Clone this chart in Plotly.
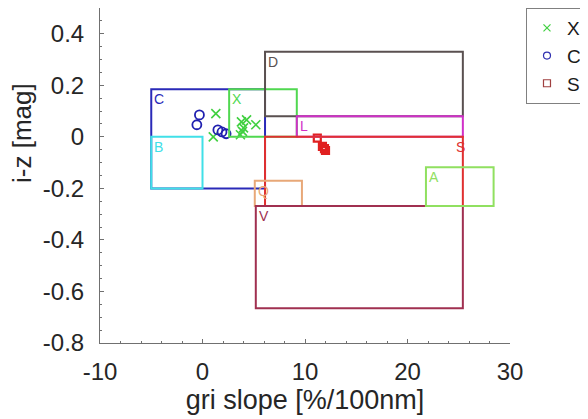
import plotly.graph_objects as go

# Data series (gri slope [%/100nm], i-z [mag])
x_series_x = [1.3, 1.05, 3.8, 4.3, 5.2, 4.0, 3.7, 3.9]
x_series_y = [0.09, 0.0, 0.058, 0.066, 0.047, 0.035, 0.008, 0.021]

c_series_x = [-0.3, -0.55, 1.5, 1.9, 2.3]
c_series_y = [0.085, 0.047, 0.027, 0.019, 0.012]

s_series_x = [11.2, 11.7, 11.9, 12.0]
s_series_y = [-0.005, -0.037, -0.046, -0.053]

# Regions
box_names = ["C", "B", "X", "D", "L", "S", "Q", "V", "A"]
box_x0 = [-5.0, -5.0, 2.6, 6.1, 9.2, 6.1, 5.1, 5.2, 21.8]
box_x1 = [6.1, 0.0, 9.2, 25.4, 25.4, 25.4, 9.7, 25.4, 28.4]
box_y0 = [-0.2, -0.2, 0.0, 0.08, 0.0, -0.268, -0.268, -0.665, -0.268]
box_y1 = [0.185, 0.0, 0.185, 0.33, 0.08, 0.0, -0.17, -0.268, -0.118]
box_colors = ["#2a2ab8", "#40e0e8", "#50d850", "#5a5050", "#d030c8",
              "#e03030", "#e8a878", "#a03050", "#90e060"]
box_label_side = ["left", "left", "left", "left", "left", "right", "left", "left", "left"]

x_ticks = [-10, 0, 10, 20, 30]
y_ticks = [0.4, 0.2, 0, -0.2, -0.4, -0.6, -0.8]

FONT = "Liberation Sans, Arial, sans-serif"

fig = go.Figure()

shapes = []
annotations = []
for name, x0, x1, y0, y1, col, side in zip(box_names, box_x0, box_x1, box_y0, box_y1,
                                            box_colors, box_label_side):
    shapes.append(dict(type="rect", xref="x", yref="y", x0=x0, x1=x1, y0=y0, y1=y1,
                       line=dict(color=col, width=2), fillcolor="rgba(0,0,0,0)"))
    if side == "left":
        annotations.append(dict(x=x0, y=y1, xref="x", yref="y", text=name, showarrow=False,
                                xanchor="left", yanchor="top", xshift=1, yshift=0,
                                font=dict(family=FONT, size=14, color=col)))
    else:
        annotations.append(dict(x=x1, y=y1, xref="x", yref="y", text=name, showarrow=False,
                                xanchor="right", yanchor="top", xshift=4, yshift=0,
                                font=dict(family=FONT, size=14, color=col)))

# Page offset: the browser body adds 8 px on the left and top
OFF = 8
plot_l, plot_r, plot_t, plot_b = 100, 510, 8, 343   # target plot area on screen

# y-axis title (placed as in the reference, above the axis centre)
annotations.append(dict(x=(22 - plot_l) / (plot_r - plot_l), y=(plot_b - 133) / (plot_b - plot_t),
                        xref="paper", yref="paper", text="i-z [mag]", showarrow=False,
                        xanchor="center", yanchor="middle", borderpad=0,
                        textangle=-90, font=dict(family=FONT, size=26, color="#262626")))

# Plotted markers
fig.add_trace(go.Scatter(x=x_series_x, y=x_series_y, mode="markers", name="X", showlegend=False,
                         marker=dict(symbol="x-thin-open", size=9, color="#40d040",
                                     line=dict(color="#40d040", width=1.6))))
fig.add_trace(go.Scatter(x=c_series_x, y=c_series_y, mode="markers", name="C", showlegend=False,
                         marker=dict(symbol="circle-open", size=9, color="#2020b0",
                                     line=dict(color="#2020b0", width=1.8))))
fig.add_trace(go.Scatter(x=s_series_x, y=s_series_y, mode="markers", name="S", showlegend=False,
                         marker=dict(symbol="square-open", size=7, color="#e02020",
                                     line=dict(color="#e02020", width=2.2))))

# Legend entries
fig.add_trace(go.Scatter(x=[None], y=[None], mode="markers", name="X",
                         marker=dict(symbol="x-thin-open", size=7, color="#40d040",
                                     line=dict(color="#40d040", width=1.2))))
fig.add_trace(go.Scatter(x=[None], y=[None], mode="markers", name="C",
                         marker=dict(symbol="circle-open", size=7, color="#3030b0",
                                     line=dict(color="#3030b0", width=1.2))))
fig.add_trace(go.Scatter(x=[None], y=[None], mode="markers", name="S",
                         marker=dict(symbol="square-open", size=7, color="#a04040",
                                     line=dict(color="#a04040", width=1.2))))

axis_common = dict(showgrid=False, zeroline=False, showline=True, linecolor="#707070", linewidth=1,
                   ticks="inside", ticklen=4, tickcolor="#707070",
                   tickfont=dict(family=FONT, size=24, color="#262626"),
                   minor=dict(ticks="inside", ticklen=2, tickcolor="#707070"))

W, H = 588, 419
fig.update_layout(
    width=W, height=H,
    paper_bgcolor="white", plot_bgcolor="white",
    margin=dict(l=plot_l - OFF, r=W - (plot_r - OFF), t=plot_t - OFF, b=H - (plot_b - OFF),
                autoexpand=False),
    shapes=shapes, annotations=annotations,
    font=dict(family=FONT, color="#262626"),
    legend=dict(x=1.039, y=1.0, xanchor="left", yanchor="top",
                bordercolor="#808080", borderwidth=1, bgcolor="white",
                font=dict(family=FONT, size=19, color="#1a1a1a"),
                itemwidth=30, tracegroupgap=0),
    xaxis=dict(range=[-10, 30], tickvals=x_ticks, ticktext=[str(v) for v in x_ticks],
               ticklabelstandoff=7,
               title=dict(text="gri slope [%/100nm]", font=dict(family=FONT, size=27, color="#262626"),
                          standoff=2),
               minor_dtick=2, **axis_common),
    yaxis=dict(range=[-0.8, 0.5], tickvals=y_ticks, ticktext=[f"{v:g}" for v in y_ticks],
               ticklabelstandoff=10,
               minor_dtick=0.05, **axis_common),
)

fig.write_html("out.html")
